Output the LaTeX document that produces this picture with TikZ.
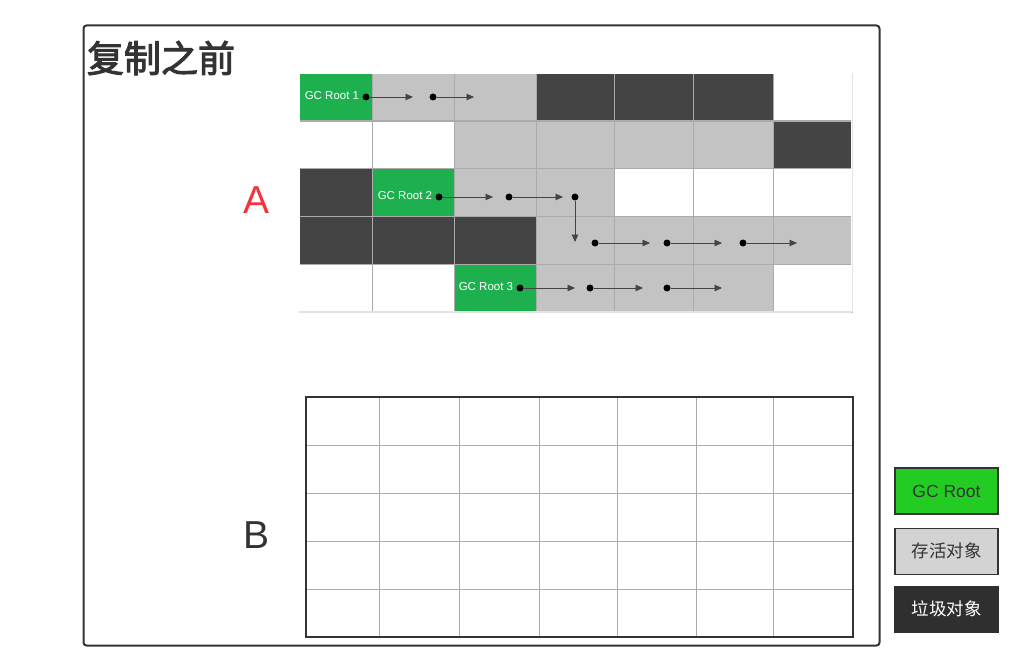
\documentclass[tikz,border=0pt]{standalone}
\usepackage{fontspec}
\setmainfont{Liberation Sans}
\newfontfamily\cjk[AutoFakeBold=2.6]{Noto Sans CJK SC}
\usetikzlibrary{arrows.meta}
\definecolor{cG}{HTML}{1EB04F}
\definecolor{cL}{HTML}{C3C3C3}
\definecolor{cD}{HTML}{444444}
\definecolor{cW}{HTML}{FFFFFF}
\definecolor{ink}{HTML}{333333}
\definecolor{redA}{HTML}{F4333D}
\definecolor{lgG}{HTML}{22CC22}
\definecolor{lgL}{HTML}{D3D3D3}
\definecolor{lgD}{HTML}{2F2F2F}
\definecolor{gline}{HTML}{ABABAB}
\definecolor{edge}{HTML}{E2E2E2}
\definecolor{arrowc}{HTML}{444444}
\tikzset{
  cell/.style={rectangle, inner sep=0, outer sep=0, draw=none},
  bcell/.style={rectangle, inner sep=0, outer sep=0, draw=gline, line width=1pt},
  ref/.style={draw=arrowc, line width=0.9pt, -{Triangle[length=7.5pt,width=6.5pt]}},
  dot/.style={circle, fill=black, inner sep=0, minimum size=7pt},
  rootlbl/.style={text=white, font=\fontsize{11.5}{12}\selectfont, inner sep=0, anchor=east},
  legend/.style={rectangle, minimum width=103, minimum height=46, line width=1.5pt, inner sep=0},
}
\newcommand\toprow[3]{%
  \foreach \k [count=\c] in {#3} {
    \pgfmathsetmacro\xa{{299,372,454,536,614,693,773,852}[\c-1]}
    \pgfmathsetmacro\xb{{299,372,454,536,614,693,773,852}[\c]}
    \pgfmathsetmacro\ww{\xb-\xa}
    \node[cell, fill=c\k, minimum width=\ww, minimum height=48] (t#1-\c) at ({(\xa+\xb)/2},{#2+24}) {};
  }}
\newcommand\botrow[2]{%
  \foreach \c in {1,...,7} {
    \pgfmathsetmacro\xa{{306,379,459,539,617,696,773,853}[\c-1]}
    \pgfmathsetmacro\xb{{306,379,459,539,617,696,773,853}[\c]}
    \pgfmathsetmacro\ww{\xb-\xa}
    \node[bcell, minimum width=\ww, minimum height=48] (b#1-\c) at ({(\xa+\xb)/2},{#2+24}) {};
  }}
\begin{document}
\begin{tikzpicture}[x=1pt,y=-1pt]
\fill[white] (0,0) rectangle (1022,671);
\useasboundingbox (0,0) rectangle (1022,671);

% outer frame
\node[draw=ink, line width=2pt, rounded corners=3pt, minimum width=796, minimum height=620, inner sep=0] (frame) at (481.5,335.5) {};

% title and labels
\node[font=\cjk\bfseries\fontsize{37}{40}\selectfont, text=ink, inner sep=0] (title) at (161,58) {复制之前};
\node[font=\fontsize{39}{40}\selectfont, text=redA, inner sep=0] (labA) at (257,200) {A};
\node[font=\fontsize{39}{40}\selectfont, text=ink, inner sep=0] (labB) at (257,535) {B};

% top grid (A)
\toprow{1}{73}{G,L,L,D,D,D,W}
\toprow{2}{120}{W,W,L,L,L,L,D}
\toprow{3}{168}{D,G,L,L,W,W,W}
\toprow{4}{216}{D,D,D,L,L,L,L}
\toprow{5}{264}{W,W,G,L,L,L,W}
\foreach \r in {1,...,5} {
  \foreach \c in {1,...,7} {
    \draw[gline, line width=0.8pt] (t\r-\c.north west) rectangle (t\r-\c.south east);
  }
}
\draw[white, line width=1.6pt] (t5-1.south west) -- (t1-1.north west) -- (t1-7.north east) -- (t5-7.south east);
\draw[edge, line width=1.2pt] (t5-1.south west) -- (t5-7.south east);
\draw[edge, line width=0.8pt] (t1-7.north east) -- (t5-7.south east);

% references
\node[dot] (d11) at (366,97) {};
\node[dot] (d12) at (433,97) {};
\coordinate (e11) at (413,97);
\coordinate (e12) at (474,97);
\node[dot] (d21) at (439,197) {};
\node[dot] (d22) at (509,197) {};
\node[dot] (d23) at (575,197) {};
\coordinate (e21) at (493,197);
\coordinate (e22) at (563,197);
\coordinate (e23) at (575,242);
\node[dot] (d31) at (595,243) {};
\node[dot] (d32) at (667,243) {};
\node[dot] (d33) at (743,243) {};
\coordinate (e31) at (650,243);
\coordinate (e32) at (722,243);
\coordinate (e33) at (797,243);
\node[dot] (d41) at (520,288) {};
\node[dot] (d42) at (590,288) {};
\node[dot] (d43) at (667,288) {};
\coordinate (e41) at (575,288);
\coordinate (e42) at (643,288);
\coordinate (e43) at (722,288);
\foreach \a/\b in {d11/e11,d12/e12,d21/e21,d22/e22,d23/e23,d31/e31,d32/e32,d33/e33,d41/e41,d42/e42,d43/e43}
  \draw[ref] (\a) -- (\b);

\node[rootlbl] (r1) at ([xshift=-3pt,yshift=1pt]d11.west) {GC Root 1};
\node[rootlbl] (r2) at ([xshift=-3pt,yshift=1pt]d21.west) {GC Root 2};
\node[rootlbl] (r3) at ([xshift=-3pt,yshift=1pt]d41.west) {GC Root 3};

% bottom grid (B)
\botrow{1}{397}
\botrow{2}{445}
\botrow{3}{493}
\botrow{4}{541}
\botrow{5}{589}
\draw[ink, line width=1.2pt] (b1-1.north west) rectangle (b5-7.south east);

% legend
\node[legend, fill=lgG, draw=ink, text=ink, font=\fontsize{17.5}{20}\selectfont] (lg1) at (946.5,491) {GC Root};
\node[legend, fill=lgL, draw=ink, text=ink, font=\cjk\fontsize{17.5}{20}\selectfont] (lg2) at (946.5,551.3) {存活对象};
\node[legend, fill=lgD, draw=lgD, text=white, font=\cjk\fontsize{17.5}{20}\selectfont] (lg3) at (946.5,609.3) {垃圾对象};
\end{tikzpicture}
\end{document}
